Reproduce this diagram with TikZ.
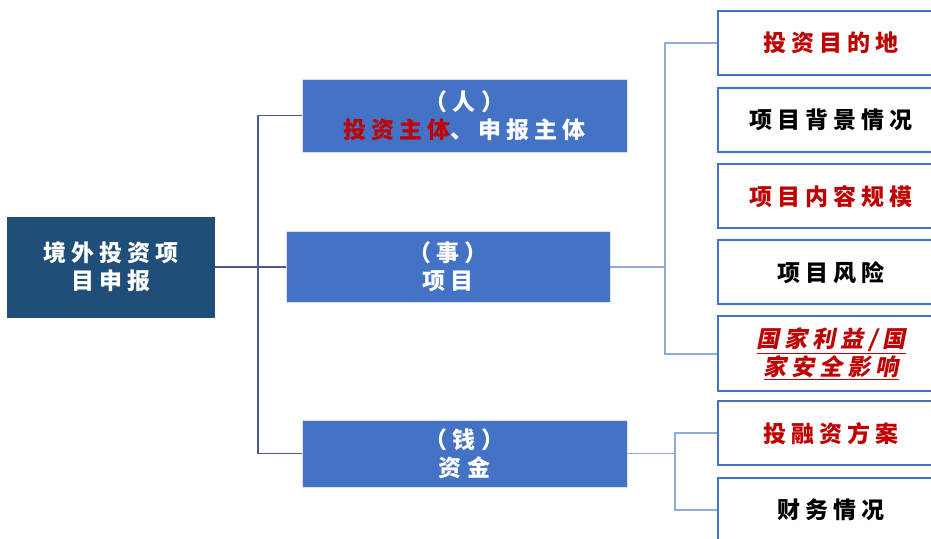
\documentclass[tikz,border=0pt]{standalone}
\usepackage{fontspec}
\usepackage{tikz}
\setmainfont{Noto Sans CJK SC}[LetterSpace=22]
\newfontfamily\slantcjk{Noto Sans CJK SC}[FakeSlant=0.2,LetterSpace=22]
\definecolor{darkbox}{HTML}{1F4E79}
\definecolor{midbox}{HTML}{4472C4}
\definecolor{darkline}{HTML}{4A5A8C}
\definecolor{lightline}{HTML}{8FAADC}
\definecolor{hotred}{HTML}{C00000}

\begin{document}
\begin{tikzpicture}[x=1pt,y=-1pt,
    rootbox/.style={fill=darkbox, text=white, font=\fontsize{23}{28}\selectfont\bfseries,
      align=center, minimum width=208pt, minimum height=101pt, inner sep=0pt},
    catbox/.style={fill=midbox, draw=white!80!midbox, line width=0.8pt, text=white,
      font=\fontsize{23}{28}\selectfont\bfseries, align=center,
      minimum width=325pt, inner sep=0pt},
    leafbox/.style={fill=white, draw=midbox, line width=2.4pt, text=black,
      font=\fontsize{23}{28}\selectfont\bfseries, align=center,
      minimum width=226pt, minimum height=64pt, inner sep=0pt, anchor=north west},
    trunkline/.style={draw=darkline, line width=1.6pt},
    branchline/.style={draw=lightline, line width=1.6pt}]
  \useasboundingbox (0,0) rectangle (931,538);

  % main box and the three categories
  \node[rootbox] (root) at (111,267) {境外投资项\\目申报};
  \node[catbox, minimum height=73pt] (ren) at (464.5,115.5)
    {（人）\\\textcolor{hotred}{投资主体}、申报主体};
  \node[catbox, minimum width=324pt, minimum height=71pt] (shi) at (448,267) {（事）\\项目};
  \node[catbox, minimum height=67pt] (qian) at (464.5,453.5) {（钱）\\资金};

  % leaves
  \node[leafbox, text=hotred] (dest) at (717,10) {投资目的地};
  \node[leafbox] (bg) at (717,87) {项目背景情况};
  \node[leafbox, text=hotred] (scale) at (717,163) {项目内容规模};
  \node[leafbox] (risk) at (717,239) {项目风险};
  \node[leafbox, minimum height=75pt, text=hotred, font=\fontsize{23}{28}\selectfont\bfseries\slantcjk]
    (safety) at (717,315) {\underline{国家利益/国}\\\underline{家安全影响}};
  \node[leafbox, text=hotred] (fin) at (717,400) {投融资方案};
  \node[leafbox] (money) at (717,477) {财务情况};

  % connectors
  \coordinate (trunk) at (258,267);
  \coordinate (shibus) at (665,267);
  \coordinate (qianbus) at (675,453.5);
  \draw[trunkline] (ren.west) -| (trunk) |- (qian.west);
  \draw[trunkline] (root.east) -- (shi.west);
  \draw[branchline] (shi.east) -- (shibus);
  \draw[branchline] (dest.west) -| (shibus) |- (safety.west);
  \draw[branchline] (qian.east) -- (qianbus);
  \draw[branchline] (fin.west) -| (qianbus) |- (money.west);
\end{tikzpicture}
\end{document}
